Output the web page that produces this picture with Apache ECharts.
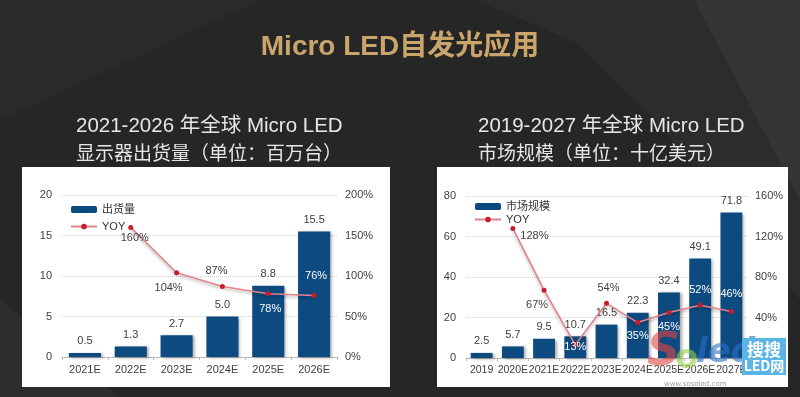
<!DOCTYPE html>
<html>
<head>
<meta charset="utf-8">
<script src="https://cdn.jsdelivr.net/npm/echarts@6/dist/echarts.min.js"></script>
<style>
  html, body { margin: 0; padding: 0; background: #262626; }
  #main { width: 800px; height: 397px; }
</style>
</head>
<body>
<div id="main"></div>
<script>
// 左图：显示器出货量
var shipYears = ['2021E', '2022E', '2023E', '2024E', '2025E', '2026E'];
var shipValues = [0.5, 1.3, 2.7, 5.0, 8.8, 15.5];
var shipYoy = [null, 160, 104, 87, 78, 76];

// 右图：市场规模
var marketYears = ['2019', '2020E', '2021E', '2022E', '2023E', '2024E', '2025E', '2026E', '2027E'];
var marketValues = [2.5, 5.7, 9.5, 10.7, 16.5, 22.3, 32.4, 49.1, 71.8];
var marketYoy = [null, 128, 67, 13, 54, 35, 45, 52, 46];

var FONT = '"Liberation Sans", Arial, "Noto Sans CJK SC", sans-serif';
var BAR = '#0d4a7f';
var DARK = '#404040';

// 折线标签位置（上/下、颜色）
var shipYoyLabel = [null,
    {position: 'bottom', offset: [4, -2]},
    {position: 'bottom', offset: [-8, 2]},
    {position: 'top', offset: [-6, -3]},
    {position: 'bottom', offset: [2, 2], color: '#fff'},
    {position: 'top', offset: [2, -6], color: '#fff'}];
var marketYoyLabel = [null,
    {position: 'right', offset: [0, 8]},
    {position: 'bottom', offset: [-7, 2]},
    {position: 'inside', offset: [0, 2], color: '#fff'},
    {position: 'top', offset: [2, -2]},
    {position: 'bottom', offset: [0, 0], color: '#fff'},
    {position: 'bottom', offset: [0, 2], color: '#fff'},
    {position: 'top', offset: [0, -2], color: '#fff'},
    {position: 'top', offset: [0, -4], color: '#fff'}];

function yoyData(values, labels) {
    return values.map(function (v, i) {
        if (v == null) return '-';
        var lb = labels[i];
        return {
            value: v,
            label: {
                position: lb.position,
                offset: lb.offset,
                color: lb.color || DARK
            }
        };
    });
}

function xAxisOf(idx, data, size) {
    return {
        type: 'category', gridIndex: idx, data: data,
        axisLine: {lineStyle: {color: '#b8b8b8'}},
        axisTick: {show: true, length: 3, lineStyle: {color: '#b8b8b8'}},
        axisLabel: {color: DARK, fontSize: size, fontFamily: FONT, margin: 7, interval: 0}
    };
}

function yAxisOf(idx, max, interval, pos, fmt) {
    return {
        type: 'value', gridIndex: idx, position: pos, min: 0, max: max, interval: interval,
        axisLine: {show: false}, axisTick: {show: false},
        splitLine: {show: pos === 'left', lineStyle: {color: '#d4d4d4', type: 'dotted'}},
        axisLabel: {color: DARK, fontSize: 11, fontFamily: FONT, margin: pos === 'left' ? 10 : 8, formatter: fmt}
    };
}

var barStyle = {
    color: BAR,
    shadowColor: 'rgba(0,0,0,0.35)', shadowBlur: 3, shadowOffsetX: 2, shadowOffsetY: 1
};
var lineSeriesStyle = {
    lineStyle: {color: '#e4828b', width: 1.5, shadowColor: 'rgba(0,0,0,0.3)', shadowBlur: 3, shadowOffsetY: 2},
    itemStyle: {color: '#c41e2c'}
};

var myChart = echarts.init(document.getElementById('main'), null, {renderer: 'canvas'});

var option = {
    backgroundColor: '#262626',
    animation: false,
    textStyle: {fontFamily: FONT},
    graphic: [
        // 背景斜面
        {type: 'polygon', z: -10, shape: {points: [[477, 0], [577, 43], [660, 125], [800, 300], [800, 0]]}, style: {fill: '#2c2c2c'}},
        {type: 'polygon', z: -9, shape: {points: [[694, 0], [800, 200], [800, 0]]}, style: {fill: '#343434'}},
        {type: 'polygon', z: -9, shape: {points: [[0, 300], [0, 397], [120, 397]]}, style: {fill: '#2d2d2d'}},
        {type: 'polygon', z: -9, shape: {points: [[0, 0], [260, 0], [0, 120]]}, style: {fill: '#2a2a2a'}},
        // 标题
        {type: 'text', left: 'center', top: 33, style: {text: 'Micro LED自发光应用', fill: '#c9a56c', font: 'bold 28px "Liberation Sans", "Noto Sans CJK SC", sans-serif'}},
        {type: 'text', x: 76, y: 116, style: {text: '2021-2026 年全球 Micro LED', fill: '#e6e6e6', font: '20.5px "Liberation Sans", "Noto Sans CJK SC", sans-serif'}},
        {type: 'text', x: 76, y: 143, style: {text: '显示器出货量（单位：百万台）', fill: '#e6e6e6', font: '19px "Noto Sans CJK SC", sans-serif'}},
        {type: 'text', x: 478, y: 116, style: {text: '2019-2027 年全球 Micro LED', fill: '#e6e6e6', font: '20.5px "Liberation Sans", "Noto Sans CJK SC", sans-serif'}},
        {type: 'text', x: 478, y: 143, style: {text: '市场规模（单位：十亿美元）', fill: '#e6e6e6', font: '19px "Noto Sans CJK SC", sans-serif'}},
        // 白色面板
        {type: 'rect', z: -5, shape: {x: 22, y: 167, width: 368, height: 220}, style: {fill: '#ffffff'}},
        {type: 'rect', z: -5, shape: {x: 437, y: 167, width: 351, height: 220}, style: {fill: '#ffffff'}},
        // 水印
        {type: 'text', z: 100, x: 647, y: 330, style: {text: 'S', fill: 'rgba(226,70,70,0.6)', font: 'italic bold 46px "DejaVu Sans", sans-serif'}},
        {type: 'text', z: 100, x: 675, y: 342, style: {text: 'o', fill: 'rgba(150,205,70,0.6)', font: 'bold 34px "DejaVu Sans", sans-serif'}},
        {type: 'text', z: 100, x: 696, y: 336, style: {text: 'led', fill: 'rgba(40,110,200,0.6)', font: 'italic bold 34px "DejaVu Sans", sans-serif'}},
        {type: 'text', z: 100, x: 664, y: 381, style: {text: 'www.sosoled.com', fill: 'rgba(110,110,110,0.7)', font: '7px "DejaVu Sans", sans-serif'}},
        {type: 'rect', z: 100, shape: {x: 742, y: 338, width: 44, height: 37}, style: {fill: '#5ab5e6'}},
        {type: 'text', z: 101, x: 764, y: 341, style: {text: '搜搜', fill: '#fff', align: 'center', font: 'bold 17px "Noto Sans CJK SC", sans-serif'}},
        {type: 'text', z: 101, x: 764, y: 359, style: {text: 'LED网', fill: '#fff', align: 'center', font: 'bold 14px "Noto Sans CJK SC", sans-serif'}}
    ],
    legend: [
        {
            left: 65, top: 199, orient: 'vertical', itemGap: 6, itemWidth: 26, itemHeight: 7,
            data: ['出货量', 'YOY'],
            textStyle: {color: '#333', fontSize: 11, fontFamily: FONT}
        },
        {
            left: 469, top: 196, orient: 'vertical', itemGap: 2, itemWidth: 26, itemHeight: 7,
            data: ['市场规模', 'YOY'],
            textStyle: {color: '#333', fontSize: 11, fontFamily: FONT}
        }
    ],
    grid: [
        {left: 62, right: 463, top: 195, bottom: 40},
        {left: 466, right: 53, top: 196, bottom: 39}
    ],
    xAxis: [xAxisOf(0, shipYears, 11), xAxisOf(1, marketYears, 10.5)],
    yAxis: [
        yAxisOf(0, 20, 5, 'left'),
        yAxisOf(0, 200, 50, 'right', '{value}%'),
        yAxisOf(1, 80, 20, 'left'),
        yAxisOf(1, 160, 40, 'right', '{value}%')
    ],
    series: [
        {
            name: '出货量', type: 'bar', xAxisIndex: 0, yAxisIndex: 0,
            barCategoryGap: '30%', data: shipValues, itemStyle: barStyle,
            label: {show: true, position: 'top', distance: 6, color: DARK, fontSize: 11, fontFamily: FONT,
                formatter: function (p) { return p.value.toFixed(1); }}
        },
        {
            name: 'YOY', type: 'line', xAxisIndex: 0, yAxisIndex: 1,
            data: yoyData(shipYoy, shipYoyLabel), symbol: 'circle', symbolSize: 5,
            lineStyle: lineSeriesStyle.lineStyle, itemStyle: lineSeriesStyle.itemStyle,
            label: {show: true, fontSize: 11, fontFamily: FONT, formatter: '{c}%'}
        },
        {
            name: '市场规模', type: 'bar', xAxisIndex: 1, yAxisIndex: 2,
            barCategoryGap: '30%', data: marketValues, itemStyle: barStyle,
            label: {show: true, position: 'top', distance: 6, color: DARK, fontSize: 11, fontFamily: FONT}
        },
        {
            name: 'YOY', type: 'line', xAxisIndex: 1, yAxisIndex: 3,
            data: yoyData(marketYoy, marketYoyLabel), symbol: 'circle', symbolSize: 5,
            lineStyle: lineSeriesStyle.lineStyle, itemStyle: lineSeriesStyle.itemStyle,
            label: {show: true, fontSize: 11, fontFamily: FONT, formatter: '{c}%'}
        }
    ]
};
myChart.setOption(option);
</script>
</body>
</html>
